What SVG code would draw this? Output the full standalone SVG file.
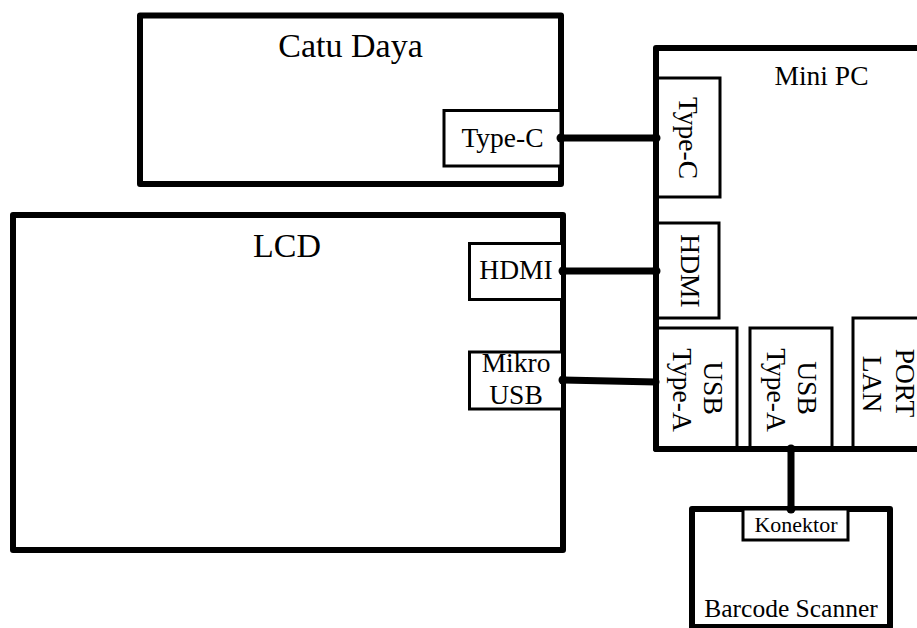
<svg xmlns="http://www.w3.org/2000/svg" width="917" height="628" viewBox="0 0 917 628">
<style>
text{font-family:"Liberation Serif","Times New Roman",serif;fill:#000}
.outer{fill:#fff;stroke:#000;stroke-width:6;stroke-linejoin:round}
.port{fill:#fff;stroke:#000;stroke-width:3}
.big{font-size:34px}
.lbl{font-size:27.5px}
.conn{stroke:#000;stroke-width:7;stroke-linecap:round;fill:none}
.dot{fill:#000}
</style>
<rect width="917" height="628" fill="#fff"/>
<g id="catu-daya">
<rect class="outer" x="140" y="15.5" width="421" height="168.5"/>
<text class="big" x="350.5" y="57" text-anchor="middle">Catu Daya</text>
<rect class="port" x="444" y="110.5" width="117" height="55.5"/>
<text class="lbl" x="502.5" y="147" text-anchor="middle">Type-C</text>
</g>
<g id="lcd">
<rect class="outer" x="13" y="215" width="550" height="335"/>
<text class="big" x="287" y="257" text-anchor="middle">LCD</text>
<rect class="port" x="469.5" y="243.5" width="93" height="56"/>
<text class="lbl" x="516" y="279" text-anchor="middle">HDMI</text>
<rect class="port" x="469.5" y="352" width="93" height="57"/>
<text class="lbl" x="516" y="372" text-anchor="middle">Mikro</text>
<text class="lbl" x="516" y="404" text-anchor="middle">USB</text>
</g>
<g id="mini-pc">
<rect class="outer" x="656" y="48" width="320" height="401"/>
<text class="lbl" x="821.5" y="85" text-anchor="middle">Mini PC</text>
<g id="mini-typec">
<rect class="port" x="656" y="78" width="64" height="119"/>
<text class="lbl" transform="translate(679 138) rotate(90)" text-anchor="middle">Type-C</text>
</g>
<g id="mini-hdmi">
<rect class="port" x="656" y="223" width="63" height="95"/>
<text class="lbl" transform="translate(681 271) rotate(90)" text-anchor="middle">HDMI</text>
</g>
<g id="mini-usb1">
<rect class="port" x="656" y="328" width="81" height="121"/>
<text class="lbl" transform="translate(704 388) rotate(90)" text-anchor="middle">USB</text>
<text class="lbl" transform="translate(673 390) rotate(90)" text-anchor="middle">Type-A</text>
</g>
<g id="mini-usb2">
<rect class="port" x="750" y="328" width="82" height="121"/>
<text class="lbl" transform="translate(798 388) rotate(90)" text-anchor="middle">USB</text>
<text class="lbl" transform="translate(767 390) rotate(90)" text-anchor="middle">Type-A</text>
</g>
<g id="mini-lan">
<rect class="port" x="853" y="318" width="120" height="131"/>
<text class="lbl" transform="translate(896 383) rotate(90)" text-anchor="middle">PORT</text>
<text class="lbl" transform="translate(863 384) rotate(90)" text-anchor="middle">LAN</text>
</g>
<path d="M656 48 V449 H917" fill="none" stroke="#000" stroke-width="6" stroke-linejoin="round"/>
</g>
<g id="barcode-scanner">
<rect class="outer" x="692" y="509" width="198" height="118"/>
<rect class="port" x="743" y="509" width="105" height="31"/>
<text x="796" y="532" font-size="22" text-anchor="middle">Konektor</text>
<text x="791" y="617" font-size="25.5" text-anchor="middle">Barcode Scanner</text>
</g>
<g id="connectors">
<line class="conn" x1="561" y1="138" x2="656" y2="138"/>
<line class="conn" x1="563" y1="271" x2="656" y2="271"/>
<line class="conn" x1="563" y1="380" x2="656" y2="382"/>
<line class="conn" x1="791" y1="449" x2="791" y2="509"/>
<circle class="dot" cx="561" cy="138" r="4.5"/>
<circle class="dot" cx="656" cy="138" r="4.5"/>
<circle class="dot" cx="563" cy="271" r="4.5"/>
<circle class="dot" cx="656" cy="271" r="4.5"/>
<circle class="dot" cx="563" cy="380" r="4.5"/>
<circle class="dot" cx="791" cy="449" r="4.5"/>
<circle class="dot" cx="791" cy="509" r="4.5"/>
</g>
</svg>
